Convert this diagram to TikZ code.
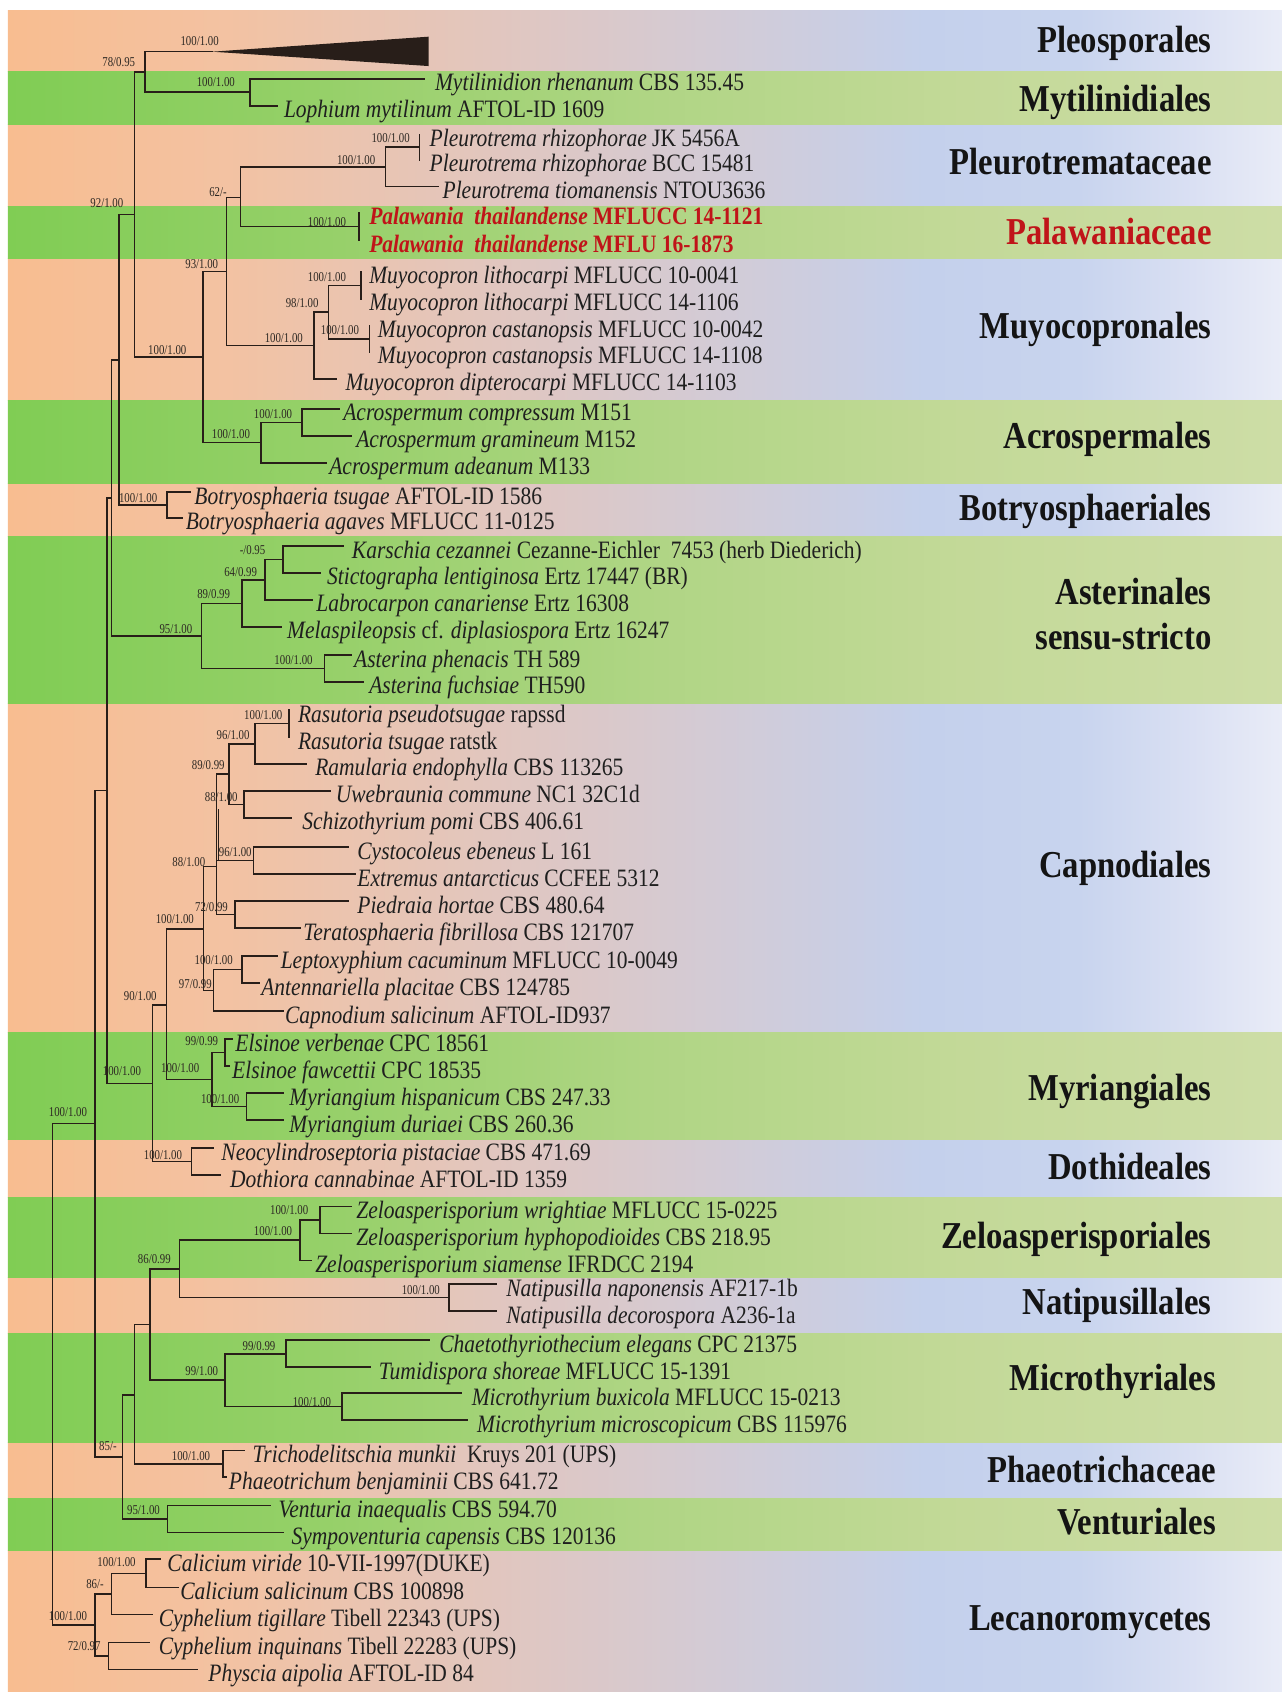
\documentclass[tikz,border=0pt]{standalone}
\usepackage{fontspec}
\setmainfont{Liberation Serif}
\usepackage{graphicx}
\definecolor{pk0}{RGB}{248,189,144}
\definecolor{pk1}{RGB}{243,194,162}
\definecolor{pk2}{RGB}{222,199,196}
\definecolor{pk3}{RGB}{208,204,218}
\definecolor{pk4}{RGB}{196,208,236}
\definecolor{pk5}{RGB}{200,212,238}
\definecolor{pk6}{RGB}{218,224,243}
\definecolor{pk7}{RGB}{233,236,247}
\definecolor{gr0}{RGB}{128,205,84}
\definecolor{gr1}{RGB}{150,208,105}
\definecolor{gr2}{RGB}{175,213,132}
\definecolor{gr3}{RGB}{195,217,152}
\definecolor{gr4}{RGB}{205,221,166}
\definecolor{treecol}{RGB}{40,30,25}
\definecolor{bscol}{RGB}{45,40,35}
\definecolor{palred}{RGB}{192,20,25}
\pgfdeclarehorizontalshading{peachband}{100bp}{color(0bp)=(pk0); color(25bp)=(pk0); color(33.5bp)=(pk1); color(46bp)=(pk2); color(54.5bp)=(pk3); color(61bp)=(pk4); color(67bp)=(pk5); color(71.5bp)=(pk6); color(75bp)=(pk7); color(100bp)=(pk7)}
\pgfdeclarehorizontalshading{greenband}{100bp}{color(0bp)=(gr0); color(25bp)=(gr0); color(37.5bp)=(gr1); color(50bp)=(gr2); color(62.5bp)=(gr3); color(75bp)=(gr4); color(100bp)=(gr4)}
\newcommand\TXT[1]{\scalebox{0.86}[1]{#1}}
\newcommand\BTXT[1]{\scalebox{0.8}[1]{#1}}
\newcommand\BRnode[4]{\coordinate (#1) at (#3,#4); \draw[br] (#2) |- (#1);}
\newcommand\TIPnode[6]{\coordinate (#1) at (#3,#4); \draw[br] (#2) |- (#1); \node[tax] (#1-t) at (#5,#4) {\TXT{#6}};}
\newcommand\BS[4]{\node[bs] (#1) at (#2,#3) {\BTXT{#4}};}
\newcommand\ORD[4]{\node[ord] (#1) at (#2,#3) {\TXT{#4}};}
\tikzset{
  br/.style={line width=1.6pt, draw=treecol, line cap=rect},
  tax/.style={anchor=base west, inner sep=0pt, yshift=-12pt, font=\fontsize{25}{28}\selectfont, text=black!88},
  bs/.style={inner sep=0pt, font=\fontsize{13.5}{15}\selectfont, text=bscol},
  ord/.style={anchor=base east, inner sep=0pt, font=\bfseries\fontsize{38}{42}\selectfont, text=black!92},
}
\begin{document}
\begin{tikzpicture}[x=1.0791pt, y=-1.0791pt]
\useasboundingbox (0,0) rectangle (1188,1568);
\fill[white] (0,0) rectangle (1188,1568);
% bands
\foreach \a/\b in {9.3/66.7, 115.8/191.8, 239.1/370.7, 447.6/497.6, 651.5/956.4, 1056.4/1109.3, 1184.3/1235.3, 1337.2/1388.2, 1436.4/1568}
  \shade[shading=peachband] (7.4,\a) rectangle (1188,\b);
\foreach \a/\b in {66.7/115.8, 191.8/239.1, 370.7/447.6, 497.6/651.5, 956.4/1056.4, 1109.3/1184.3, 1235.3/1337.2, 1388.2/1436.4}
  \shade[shading=greenband] (7.4,\a) rectangle (1188,\b);

% tree backbone
\coordinate (root) at (48.8,1273);
\BRnode{D}{root}{88}{1041.3}
\BRnode{L}{root}{88}{1505.7}
\BRnode{X3}{D}{98.9}{732.6}
\BRnode{n85}{D}{113.7}{1350}
\BRnode{X2}{X3}{103.5}{461.3}
\BRnode{Y1}{X3}{141.5}{1003.9}
\BRnode{X1}{X2}{110.3}{333.4}
\BRnode{Ast}{X2}{186.9}{589.3}
\BRnode{N92}{X1}{124.5}{198.8}
\BRnode{Bot}{X1}{155}{468}
\BRnode{N78}{N92}{134.3}{66.7}
\BRnode{N100a}{N92}{188}{330.9}
\BRnode{Pleo}{N78}{196.7}{47.9}
\coordinate (pt1) at (397.1,34);
\coordinate (pt2) at (397.1,61.2);
\fill[treecol] (Pleo) -- (pt1) -- (pt2) -- cycle;
\BRnode{Myt}{N78}{231.5}{85.5}
\TIPnode{t1}{Myt}{393}{73}{403}{\textit{Mytilinidion rhenanum} CBS 135.45}
\TIPnode{t2}{Myt}{257}{98}{263}{\textit{Lophium mytilinum} AFTOL-ID 1609}
\BRnode{N93}{N100a}{210}{251.5}
\BRnode{Acr}{N100a}{242}{410.25}
\BRnode{N62}{N93}{223}{183}
\BRnode{NM}{N93}{291.2}{320.1}
\BRnode{N100p}{N62}{357.4}{154.75}
\BRnode{Pal}{N62}{332.8}{210}
\BRnode{N100pp}{N100p}{388.8}{136.5}
\TIPnode{t3}{N100pp}{388.8}{125}{398}{\textit{Pleurotrema rhizophorae} JK 5456A}
\TIPnode{t4}{N100pp}{388.8}{148}{398}{\textit{Pleurotrema rhizophorae} BCC 15481}
\TIPnode{t5}{N100p}{406}{173}{410}{\textit{Pleurotrema tiomanensis} NTOU3636}
\TIPnode{t6}{Pal}{332.8}{197}{342}{\color{palred}\bfseries\textit{Palawania\ \ thailandense} MFLUCC 14-1121}
\TIPnode{t7}{Pal}{332.8}{223}{342}{\color{palred}\bfseries\textit{Palawania\ \ thailandense} MFLU 16-1873}
\BRnode{N98}{NM}{304.5}{289.3}
\TIPnode{t12}{NM}{312}{351}{320}{\textit{Muyocopron dipterocarpi} MFLUCC 14-1103}
\BRnode{Nlit}{N98}{334.7}{264.5}
\BRnode{Ncas}{N98}{342.3}{314}
\TIPnode{t8}{Nlit}{334.7}{252}{342}{\textit{Muyocopron lithocarpi} MFLUCC 10-0041}
\TIPnode{t9}{Nlit}{334.7}{277}{342}{\textit{Muyocopron lithocarpi} MFLUCC 14-1106}
\TIPnode{t10}{Ncas}{342.3}{302}{350}{\textit{Muyocopron castanopsis} MFLUCC 10-0042}
\TIPnode{t11}{Ncas}{342.3}{326}{350}{\textit{Muyocopron castanopsis} MFLUCC 14-1108}
\BRnode{Ain}{Acr}{279.9}{391.5}
\TIPnode{t13}{Ain}{314}{379}{318}{\textit{Acrospermum compressum} M151}
\TIPnode{t14}{Ain}{325}{404}{330}{\textit{Acrospermum gramineum} M152}
\TIPnode{t15}{Acr}{302.6}{429}{305}{\textit{Acrospermum adeanum} M133}
\TIPnode{t16}{Bot}{176}{456}{180}{\textit{Botryosphaeria tsugae} AFTOL-ID 1586}
\TIPnode{t17}{Bot}{169}{480}{172}{\textit{Botryosphaeria agaves} MFLUCC 11-0125}
% Asterinales
\BRnode{A89}{Ast}{224}{559.2}
\BRnode{Aste}{Ast}{300.7}{619.5}
\BRnode{A64}{A89}{245.6}{537.3}
\TIPnode{t21}{A89}{261}{581}{266}{\textit{Melaspileopsis} cf. \textit{diplasiospora} Ertz 16247}
\BRnode{A95}{A64}{262.1}{518.5}
\TIPnode{t20}{A64}{289.3}{556}{293}{\textit{Labrocarpon canariense} Ertz 16308}
\TIPnode{t18}{A95}{317.7}{506}{326}{\textit{Karschia cezannei} Cezanne-Eichler\ \ 7453 (herb Diederich)}
\TIPnode{t19}{A95}{296.9}{531}{303}{\textit{Stictographa lentiginosa} Ertz 17447 (BR)}
\TIPnode{t22}{Aste}{325.3}{607}{328}{\textit{Asterina phenacis} TH 589}
\TIPnode{t23}{Aste}{336.6}{632}{342}{\textit{Asterina fuchsiae} TH590}
% Y clade
\BRnode{Y2}{Y1}{154.4}{931.3}
\BRnode{Dot}{Y1}{177.6}{1076.5}
\TIPnode{t40}{Dot}{197.7}{1064}{205}{\textit{Neocylindroseptoria pistaciae} CBS 471.69}
\TIPnode{t41}{Dot}{203.9}{1089}{213}{\textit{Dothiora cannabinae} AFTOL-ID 1359}
\BRnode{C100}{Y2}{188.4}{861}
\BRnode{Z1}{Y2}{196.2}{1000.5}
\BRnode{Els}{Z1}{208.5}{975.5}
\BRnode{Myr}{Z1}{228.6}{1025.5}
\TIPnode{t36}{Els}{215}{963}{218}{\textit{Elsinoe verbenae} CPC 18561}
\TIPnode{t37}{Els}{212}{988}{215}{\textit{Elsinoe fawcettii} CPC 18535}
\TIPnode{t38}{Myr}{262}{1013}{268}{\textit{Myriangium hispanicum} CBS 247.33}
\TIPnode{t39}{Myr}{262}{1038}{268}{\textit{Myriangium duriaei} CBS 260.36}
% Capnodiales
\BRnode{N88b}{C100}{200.8}{803.1}
\BRnode{N97}{C100}{197.7}{917.75}
\BRnode{N89}{N88b}{212.2}{717.4}
\BRnode{N96c}{N88b}{234.8}{797.5}
\BRnode{N72}{N88b}{217.8}{847.5}
\coordinate (k1) at (202.6,750);
\coordinate (k2) at (202.6,797.5);
\draw[br] (k1) -- (k2);
\BRnode{N96r}{N89}{236.3}{689.25}
\BRnode{N88u}{N89}{226.1}{745.5}
\BRnode{Nras}{N96r}{267.8}{670.5}
\TIPnode{t24}{Nras}{267.8}{658}{276}{\textit{Rasutoria pseudotsugae} rapssd}
\TIPnode{t25}{Nras}{267.8}{683}{276}{\textit{Rasutoria tsugae} ratstk}
\TIPnode{t26}{N96r}{284}{708}{292}{\textit{Ramularia endophylla} CBS 113265}
\TIPnode{t27}{N88u}{306}{733}{311}{\textit{Uwebraunia commune} NC1 32C1d}
\TIPnode{t28}{N88u}{270}{758}{280}{\textit{Schizothyrium pomi} CBS 406.61}
\TIPnode{t29}{N96c}{323}{785}{331}{\textit{Cystocoleus ebeneus} L 161}
\TIPnode{t30}{N96c}{329}{810}{331}{\textit{Extremus antarcticus} CCFEE 5312}
\TIPnode{t31}{N72}{323}{835}{331}{\textit{Piedraia hortae} CBS 480.64}
\TIPnode{t32}{N72}{278}{860}{281}{\textit{Teratosphaeria fibrillosa} CBS 121707}
\BRnode{Nlep}{N97}{224}{898.5}
\TIPnode{t33}{Nlep}{257}{886}{260}{\textit{Leptoxyphium cacuminum} MFLUCC 10-0049}
\TIPnode{t34}{Nlep}{240}{911}{242}{\textit{Antennariella placitae} CBS 124785}
\TIPnode{t35}{N97}{262}{937}{264}{\textit{Capnodium salicinum} AFTOL-ID937}
% lower clades
\BRnode{W1}{n85}{124.5}{1292.5}
\BRnode{Ven}{n85}{155.4}{1407.5}
\TIPnode{t53}{Ven}{250}{1395}{258}{\textit{Venturia inaequalis} CBS 594.70}
\TIPnode{t54}{Ven}{262}{1420}{270}{\textit{Sympoventuria capensis} CBS 120136}
\BRnode{W2}{W1}{139}{1227.4}
\BRnode{Pha}{W1}{206.4}{1356.5}
\TIPnode{t51}{Pha}{226}{1344}{234}{\textit{Trichodelitschia munkii}\ \ Kruys 201 (UPS)}
\TIPnode{t52}{Pha}{210}{1369}{212}{\textit{Phaeotrichum benjaminii} CBS 641.72}
\BRnode{N86z}{W2}{166.2}{1175.8}
\BRnode{Mic}{W2}{208.5}{1279}
\BRnode{Zel}{N86z}{278}{1149}
\BRnode{Nat}{N86z}{416}{1202.5}
\BRnode{Zin}{Zel}{296.5}{1130.5}
\TIPnode{t42}{Zin}{325}{1118}{330}{\textit{Zeloasperisporium wrightiae} MFLUCC 15-0225}
\TIPnode{t43}{Zin}{325}{1143}{330}{\textit{Zeloasperisporium hyphopodioides} CBS 218.95}
\TIPnode{t44}{Zel}{288}{1168}{292}{\textit{Zeloasperisporium siamense} IFRDCC 2194}
\TIPnode{t45}{Nat}{460}{1190}{469}{\textit{Natipusilla naponensis} AF217-1b}
\TIPnode{t46}{Nat}{460}{1215}{469}{\textit{Natipusilla decorospora} A236-1a}
\BRnode{Chn}{Mic}{265}{1254.5}
\BRnode{Min}{Mic}{317}{1303.5}
\TIPnode{t47}{Chn}{398}{1242}{407}{\textit{Chaetothyriothecium elegans} CPC 21375}
\TIPnode{t48}{Chn}{343}{1267}{351}{\textit{Tumidispora shoreae} MFLUCC 15-1391}
\TIPnode{t49}{Min}{427}{1291}{437}{\textit{Microthyrium buxicola} MFLUCC 15-0213}
\TIPnode{t50}{Min}{433}{1316}{442}{\textit{Microthyrium microscopicum} CBS 115976}
% Lecanoromycetes
\BRnode{L86}{L}{103.5}{1477}
\BRnode{L72}{L}{100.4}{1534.5}
\BRnode{Cal}{L86}{135.3}{1458}
\TIPnode{t55}{Cal}{148}{1445}{155}{\textit{Calicium viride} 10-VII-1997(DUKE)}
\TIPnode{t56}{Cal}{165}{1471}{167}{\textit{Calicium salicinum} CBS 100898}
\TIPnode{t57}{L86}{141}{1496}{147}{\textit{Cyphelium tigillare} Tibell 22343 (UPS)}
\TIPnode{t58}{L72}{138}{1522}{147}{\textit{Cyphelium inquinans} Tibell 22283 (UPS)}
\TIPnode{t59}{L72}{183}{1547}{193}{\textit{Physcia aipolia} AFTOL-ID 84}

% support values
\BS{b1}{185}{38}{100/1.00}
\BS{b2}{110}{58}{78/0.95}
\BS{b3}{200}{76}{100/1.00}
\BS{b4}{99}{188}{92/1.00}
\BS{b5}{362}{128}{100/1.00}
\BS{b6}{330}{148}{100/1.00}
\BS{b7}{202}{178}{62/-}
\BS{b8}{303}{206}{100/1.00}
\BS{b9}{187}{245}{93/1.00}
\BS{b10}{303}{257}{100/1.00}
\BS{b11}{280}{281}{98/1.00}
\BS{b12}{315}{306}{100/1.00}
\BS{b13}{263}{313}{100/1.00}
\BS{b14}{155}{324}{100/1.00}
\BS{b15}{253}{384}{100/1.00}
\BS{b16}{214}{402}{100/1.00}
\BS{b17}{128}{462}{100/1.00}
\BS{b18}{234}{510}{-/0.95}
\BS{b19}{223}{530}{64/0.99}
\BS{b20}{198}{551}{89/0.99}
\BS{b21}{163}{583}{95/1.00}
\BS{b22}{272}{612}{100/1.00}
\BS{b23}{244}{663}{100/1.00}
\BS{b24}{216}{681}{96/1.00}
\BS{b25}{193}{709}{89/0.99}
\BS{b26}{205}{739}{88/1.00}
\BS{b27}{218}{790}{96/1.00}
\BS{b28}{175}{799}{88/1.00}
\BS{b29}{196}{841}{72/0.99}
\BS{b30}{162}{852}{100/1.00}
\BS{b31}{198}{890}{100/1.00}
\BS{b32}{181}{912}{97/0.99}
\BS{b33}{130}{923}{90/1.00}
\BS{b34}{187}{965}{99/0.99}
\BS{b35}{167}{990}{100/1.00}
\BS{b36}{113}{993}{100/1.00}
\BS{b37}{204}{1019}{100/1.00}
\BS{b38}{63}{1031}{100/1.00}
\BS{b39}{151}{1070}{100/1.00}
\BS{b40}{268}{1121}{100/1.00}
\BS{b41}{253}{1141}{100/1.00}
\BS{b42}{143}{1167}{86/0.99}
\BS{b43}{390}{1196}{100/1.00}
\BS{b44}{240}{1247}{99/0.99}
\BS{b45}{187}{1271}{99/1.00}
\BS{b46}{289}{1299}{100/1.00}
\BS{b47}{100}{1340}{85/-}
\BS{b48}{177}{1349}{100/1.00}
\BS{b49}{133}{1399}{95/1.00}
\BS{b50}{108}{1448}{100/1.00}
\BS{b51}{88}{1468}{86/-}
\BS{b52}{63}{1498}{100/1.00}
\BS{b53}{78}{1525}{72/0.97}

% group labels
\ORD{o1}{1123}{49}{Pleosporales}
\ORD{o2}{1123}{103}{Mytilinidiales}
\ORD{o3}{1123}{162}{Pleurotremataceae}
\ORD{o4}{1123}{227}{\color{palred}Palawaniaceae}
\ORD{o5}{1123}{314}{Muyocopronales}
\ORD{o6}{1123}{416}{Acrospermales}
\ORD{o7}{1123}{482}{Botryosphaeriales}
\ORD{o8}{1123}{560}{Asterinales}
\ORD{o9}{1123}{602}{sensu-stricto}
\ORD{o10}{1123}{813}{Capnodiales}
\ORD{o11}{1123}{1020}{Myriangiales}
\ORD{o12}{1123}{1093}{Dothideales}
\ORD{o13}{1123}{1157}{Zeloasperisporiales}
\ORD{o14}{1123}{1218}{Natipusillales}
\ORD{o15}{1127}{1289}{Microthyriales}
\ORD{o16}{1127}{1374}{Phaeotrichaceae}
\ORD{o17}{1127}{1422}{Venturiales}
\ORD{o18}{1123}{1511}{Lecanoromycetes}
\end{tikzpicture}
\end{document}
